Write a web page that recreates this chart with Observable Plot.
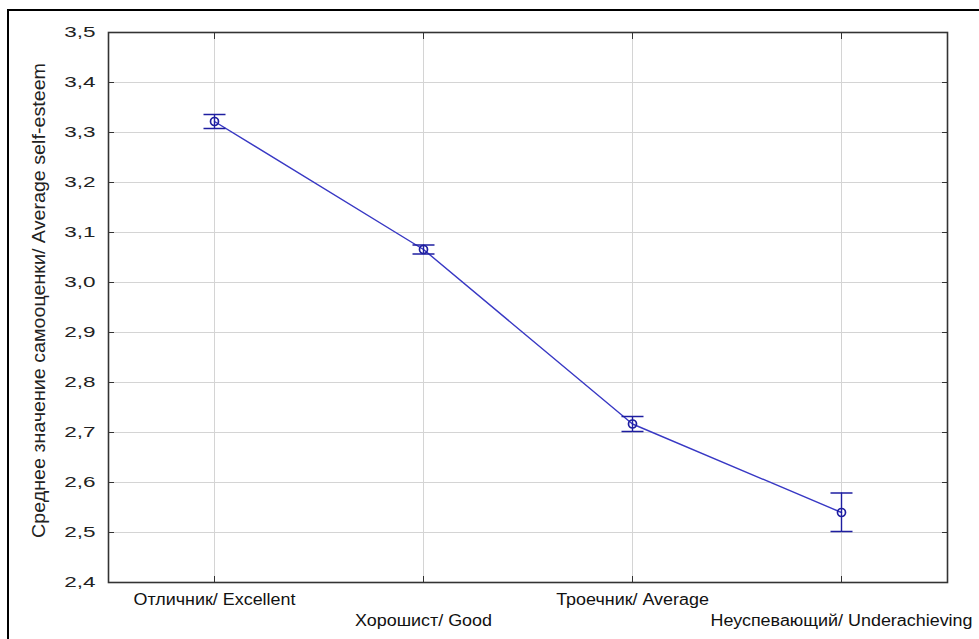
<!DOCTYPE html>
<html><head><meta charset="utf-8">
<script src="https://cdn.jsdelivr.net/npm/d3@7"></script>
<script src="https://cdn.jsdelivr.net/npm/@observablehq/plot@0.6"></script>
<style>
body{margin:0;background:#fff;font-family:"Liberation Sans",Arial,sans-serif;}
#wrap{position:relative;width:979px;height:639px;overflow:hidden;background:#fff;}
#border{position:absolute;left:7px;top:9px;width:2000px;height:2000px;border-left:2px solid #000;border-top:2px solid #000;pointer-events:none;}
</style></head><body>
<div id="wrap"><div id="chart"></div><div id="border"></div></div>
<script>
const categories = ["Отличник/ Excellent", "Хорошист/ Good", "Троечник/ Average", "Неуспевающий/ Underachieving"];
const means = [3.322, 3.066, 2.717, 2.540];
const lower = [3.308, 3.057, 2.702, 2.502];
const upper = [3.336, 3.075, 2.732, 2.579];
const yTicks = [2.4, 2.5, 2.6, 2.7, 2.8, 2.9, 3.0, 3.1, 3.2, 3.3, 3.4, 3.5];
const yTickLabels = ["2,4", "2,5", "2,6", "2,7", "2,8", "2,9", "3,0", "3,1", "3,2", "3,3", "3,4", "3,5"];
const yTitle = "Среднее значение самооценки/ Average self-esteem";

const rows = categories.map((c, i) => ({cat: c, mean: means[i], lo: lower[i], hi: upper[i]}));

const capSymbol = {draw(ctx, size) { const r = Math.sqrt(size / Math.PI); ctx.moveTo(-r, 0); ctx.lineTo(r, 0); }};
const lineBlue = "#3838c4";
const darkBlue = "#1e1ea0";
const gridColor = "#d4d4d4";
const empty = () => "";

const svg = Plot.plot({
  width: 979,
  height: 639,
  marginLeft: 108,
  marginRight: 32,
  marginTop: 32,
  marginBottom: 57,
  style: {fontFamily: "'Liberation Sans', Arial, sans-serif", background: "#fff", color: "#111"},
  x: {type: "point", domain: categories, padding: 0.5},
  y: {domain: [2.4, 3.5]},
  marks: [
    Plot.gridX(categories, {stroke: gridColor, strokeOpacity: 1}),
    Plot.gridY(yTicks, {stroke: gridColor, strokeOpacity: 1}),
    Plot.axisY(yTicks, {anchor: "left", tickSize: 6, dx: 6, tickFormat: empty, label: null, stroke: "#333"}),
    Plot.axisY(yTicks, {anchor: "right", tickSize: 6, dx: -6, tickFormat: empty, label: null, stroke: "#333"}),
    Plot.axisX(categories, {anchor: "top", tickSize: 6, dy: 6, tickFormat: empty, label: null, stroke: "#333"}),
    Plot.axisX(categories, {anchor: "bottom", tickSize: 6, dy: -6, tickFormat: empty, label: null, stroke: "#333"}),
    Plot.axisY(yTicks, {anchor: "left", tickSize: 0, tickPadding: 13, tickFormat: d => yTickLabels[yTicks.indexOf(d)], label: null, fontSize: 15, fill: "#222"}),
    Plot.frame({stroke: "#333", strokeWidth: 1.6}),
    Plot.line(rows, {x: "cat", y: "mean", stroke: lineBlue, strokeWidth: 1.4}),
    Plot.ruleX(rows, {x: "cat", y1: "lo", y2: "hi", stroke: darkBlue, strokeWidth: 1.4}),
    Plot.dot(rows, {x: "cat", y: "lo", symbol: capSymbol, r: 11, stroke: darkBlue, strokeWidth: 1.5}),
    Plot.dot(rows, {x: "cat", y: "hi", symbol: capSymbol, r: 11, stroke: darkBlue, strokeWidth: 1.5}),
    Plot.dot(rows, {x: "cat", y: "mean", r: 4, stroke: darkBlue, strokeWidth: 1.7, fill: "none"}),
    Plot.text(categories.filter((d, i) => i % 2 === 0), {x: d => d, frameAnchor: "bottom", lineAnchor: "top", dy: 11, fontSize: 16, fill: "#111"}),
    Plot.text(categories.filter((d, i) => i % 2 === 1), {x: d => d, frameAnchor: "bottom", lineAnchor: "top", dy: 32, fontSize: 16, fill: "#111"}),
    Plot.text([yTitle], {frameAnchor: "left", textAnchor: "middle", rotate: -90, dx: -69, dy: -7, fontSize: 18, fill: "#222"})
  ]
});
document.getElementById("chart").appendChild(svg);

function stretch(filterFn, factorFn) {
  d3.select(svg).selectAll("text").filter(function() { return filterFn(this.textContent); }).each(function() {
    const L = this.getComputedTextLength();
    this.setAttribute("textLength", factorFn(L));
    this.setAttribute("lengthAdjust", "spacingAndGlyphs");
  });
}
stretch(t => yTickLabels.includes(t), L => L * 1.5);
stretch(t => categories.includes(t), L => L * 1.12);
stretch(t => t === yTitle, L => 475);
</script>
</body></html>
